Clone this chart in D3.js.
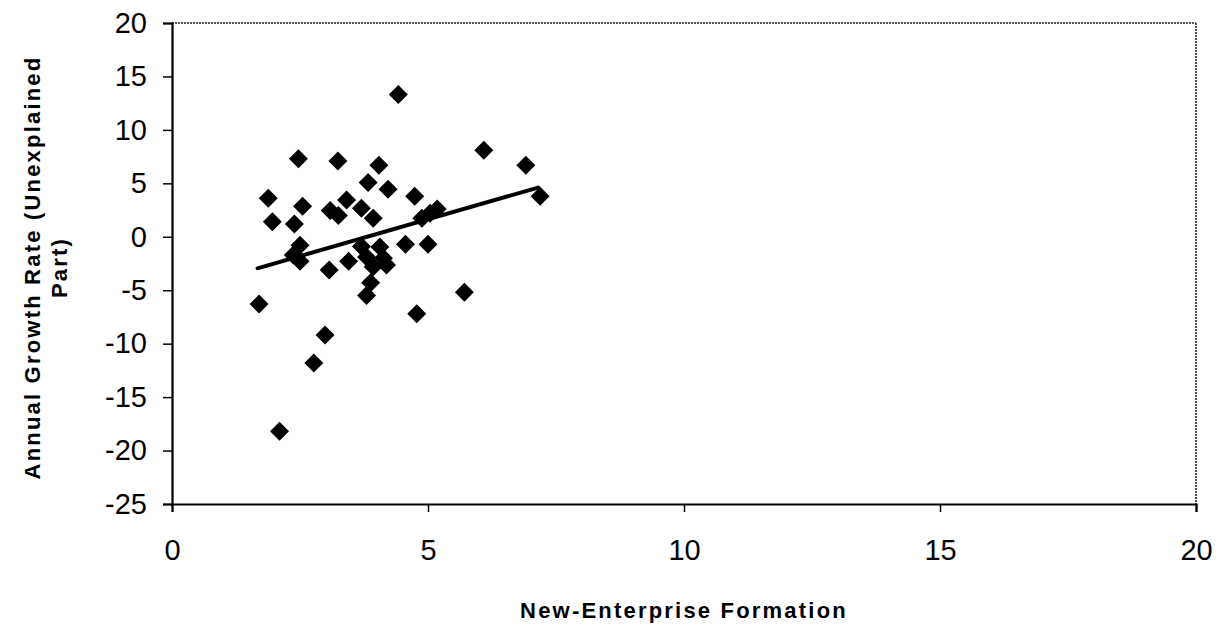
<!DOCTYPE html>
<html>
<head>
<meta charset="utf-8">
<script src="https://cdn.jsdelivr.net/npm/d3@7"></script>
<style>
  html, body { margin: 0; padding: 0; background: #fff; }
  svg { display: block; }
  text { font-family: "Liberation Sans", Arial, sans-serif; fill: #000; }
</style>
</head>
<body>
<svg id="chart" width="1222" height="631"></svg>
<script>
const xValues = [1.70, 1.88, 1.96, 2.10, 2.39, 2.37, 2.50, 2.50, 2.47, 2.55, 2.77, 2.99, 3.07, 3.09, 3.25, 3.24, 3.41, 3.45, 3.70, 3.70, 3.80, 3.80, 3.83, 3.88, 3.93, 3.93, 4.04, 4.06, 4.13, 4.19, 4.22, 4.42, 4.56, 4.74, 4.78, 4.88, 5.00, 5.04, 5.18, 5.71, 6.09, 6.91, 7.19];
const yValues = [-6.3, 3.6, 1.4, -18.2, 1.2, -1.7, -0.8, -2.3, 7.3, 2.85, -11.8, -9.2, -3.1, 2.45, 2.0, 7.1, 3.45, -2.3, 2.67, -0.9, -1.9, -5.5, 5.07, -4.3, 1.73, -2.8, 6.7, -0.95, -2.0, -2.64, 4.45, 13.3, -0.7, 3.8, -7.2, 1.73, -0.7, 2.2, 2.6, -5.2, 8.1, 6.7, 3.8];
const trendX = [1.67, 7.15];
const trendY = [-2.95, 4.6];
const xTicks = [0, 5, 10, 15, 20];
const yTicks = [20, 15, 10, 5, 0, -5, -10, -15, -20, -25];
const xTitle = "New-Enterprise Formation";
const yTitleLines = ["Annual Growth Rate (Unexplained", "Part)"];

const svg = d3.select("#chart");
const pLeft = 172, pRight = 1196, pTop = 23, pBottom = 504;
const x = d3.scaleLinear().domain([0, 20]).range([pLeft, pRight]);
const y = d3.scaleLinear().domain([-25, 20]).range([pBottom, pTop]);

// frame top & right (dotted)
svg.append("line").attr("x1", pLeft).attr("x2", pRight).attr("y1", pTop).attr("y2", pTop)
  .attr("stroke", "#222").attr("stroke-width", 1.6).attr("stroke-dasharray", "2,1");
svg.append("line").attr("x1", pRight).attr("x2", pRight).attr("y1", pTop).attr("y2", pBottom)
  .attr("stroke", "#222").attr("stroke-width", 1.6).attr("stroke-dasharray", "2,1");

// axes
const xAxis = svg.append("g").attr("transform", `translate(0,${pBottom})`)
  .call(d3.axisBottom(x).tickValues(xTicks).tickSize(8).tickPadding(27).tickFormat(d3.format("d")));
const yAxis = svg.append("g").attr("transform", `translate(${pLeft},0)`)
  .call(d3.axisLeft(y).tickValues(yTicks).tickSize(9).tickPadding(16).tickFormat(d => d < 0 ? "-" + Math.abs(d) : d));
[xAxis, yAxis].forEach(g => {
  g.select(".domain").attr("stroke", "#000").attr("stroke-width", 2.2);
  g.selectAll(".tick line").attr("stroke", "#000").attr("stroke-width", 1.5);
  g.selectAll(".tick text").attr("font-size", 29).attr("font-family", "Liberation Sans, Arial, sans-serif").attr("fill", "#000");
});

// trend line
svg.append("line")
  .attr("x1", x(trendX[0])).attr("y1", y(trendY[0]))
  .attr("x2", x(trendX[1])).attr("y2", y(trendY[1]))
  .attr("stroke", "#000").attr("stroke-width", 4).attr("stroke-linecap", "round");

// points (diamonds)
const r = 9.5;
const diamond = `M0,${-r}L${r},0L0,${r}L${-r},0Z`;
svg.append("g").selectAll("path").data(xValues.map((v, i) => [v, yValues[i]]))
  .join("path")
  .attr("d", diamond)
  .attr("transform", d => `translate(${x(d[0])},${y(d[1])})`)
  .attr("fill", "#000");

// titles
svg.append("text").attr("x", (pLeft + pRight) / 2).attr("y", 618)
  .attr("text-anchor", "middle").attr("font-size", 22).attr("font-weight", "bold")
  .attr("letter-spacing", 2.2)
  .text(xTitle);
const yt = svg.append("text").attr("transform", `translate(40,${(pTop + pBottom) / 2 + 4}) rotate(-90)`)
  .attr("text-anchor", "middle").attr("font-size", 22).attr("font-weight", "bold")
  .attr("letter-spacing", 2.2);
yTitleLines.forEach((t, i) => yt.append("tspan").attr("x", 0).attr("dy", i === 0 ? 0 : 27).text(t));
</script>
</body>
</html>
